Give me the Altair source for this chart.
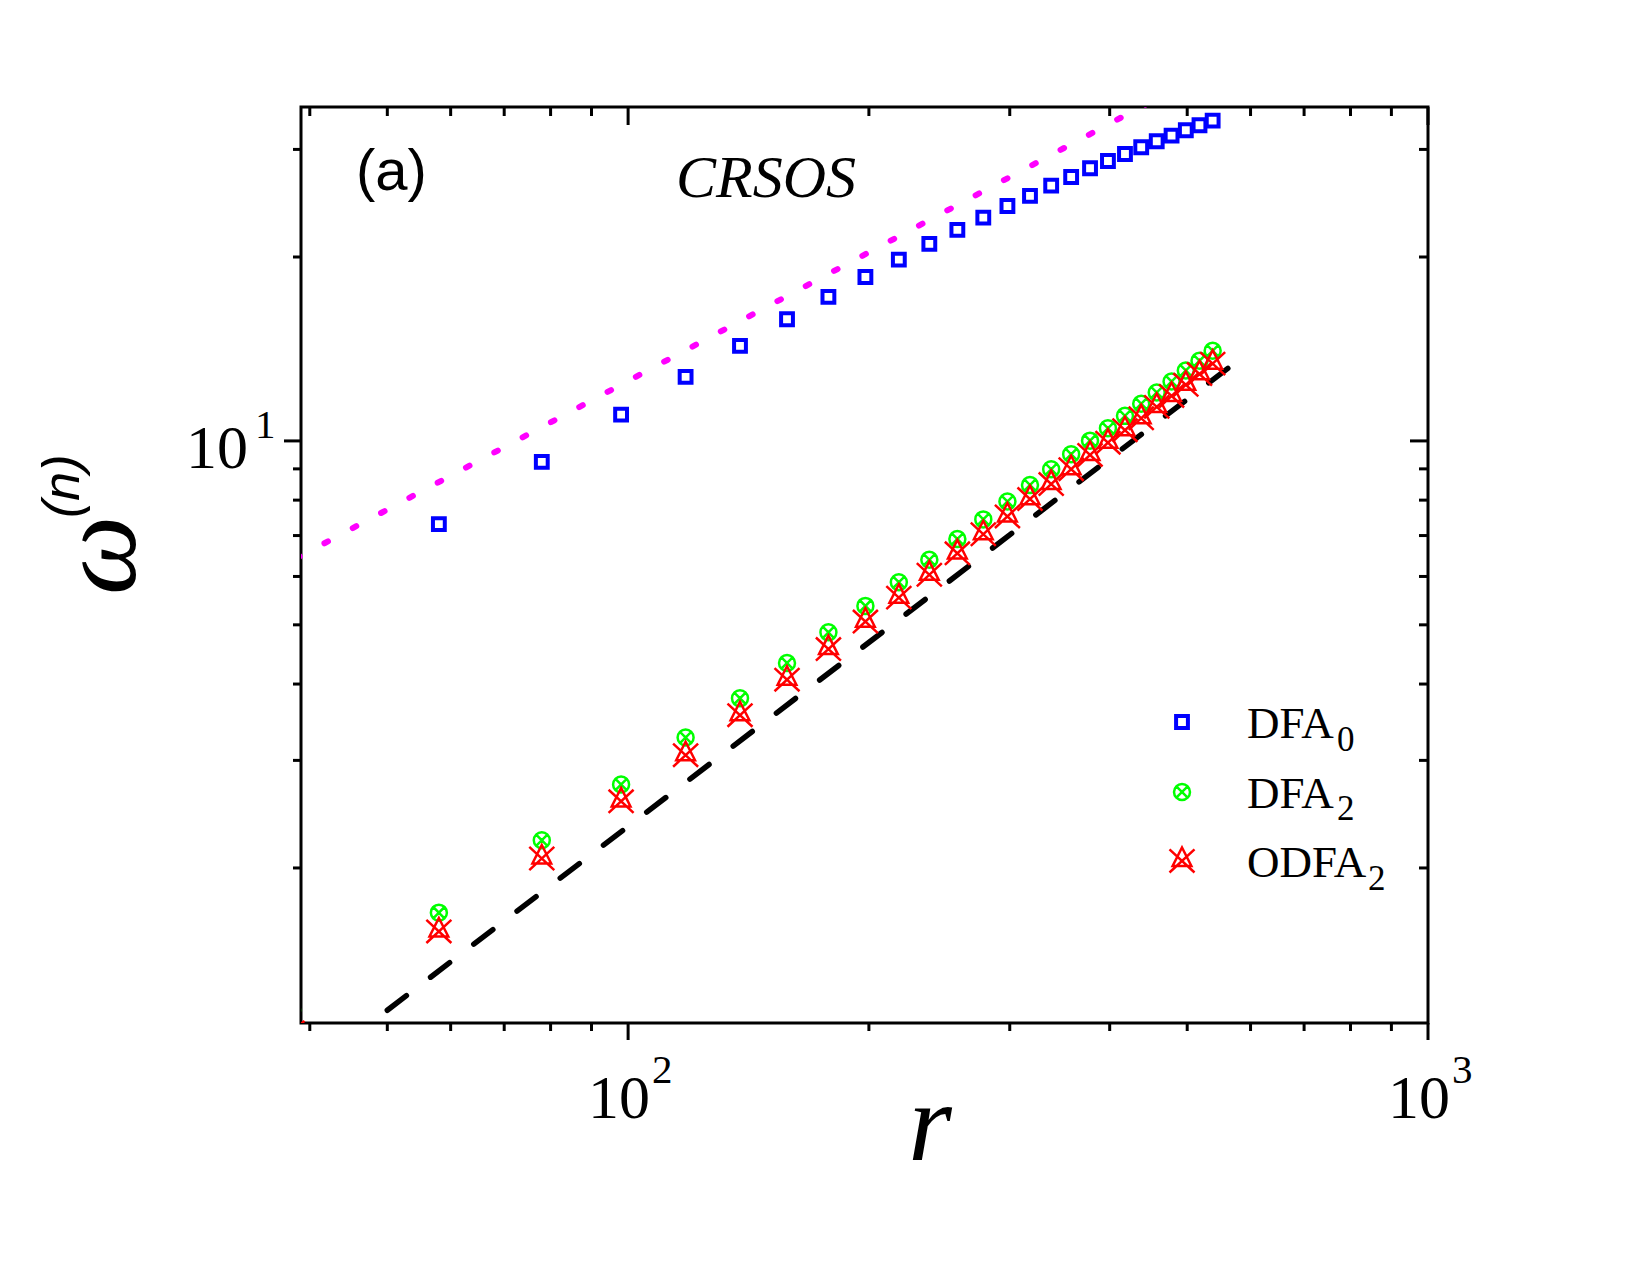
import altair as alt
import pandas as pd

# window sizes r and the three fluctuation functions
r_values = [38, 58, 78, 98, 118, 138, 158, 178, 198, 218, 238, 258, 278, 298,
            318, 338, 358, 378, 398, 418, 438, 458, 478, 498, 518, 538]
dfa0 = [5.15, 7.31, 9.24, 11.04, 12.73, 14.31, 15.82, 17.21, 18.55, 19.80,
        21.01, 22.15, 23.20, 24.24, 25.18, 26.17, 27.04, 27.94, 28.72, 29.49,
        30.25, 30.94, 31.60, 32.25, 32.86, 33.44]
dfa2 = [1.17, 1.69, 2.22, 2.74, 3.27, 3.79, 4.33, 4.86, 5.37, 5.87,
        6.39, 6.91, 7.44, 7.96, 8.47, 8.99, 9.51, 10.01, 10.49, 10.99,
        11.50, 12.00, 12.51, 13.04, 13.53, 14.05]
odfa2 = [1.08, 1.58, 2.08, 2.58, 3.07, 3.57, 4.08, 4.58, 5.08, 5.56,
         6.06, 6.57, 7.06, 7.55, 8.06, 8.53, 9.02, 9.52, 9.97, 10.45,
         10.93, 11.41, 11.89, 12.40, 12.91, 13.43]

# reference power laws (end points of each guide line)
power_r = [38, 450]
power_w = [6.37, 35.9]
linear_r = [50, 566]
linear_w = [1.17, 13.24]

# tick positions and labels
x_major = [100, 1000]
x_minor = [40, 50, 60, 70, 80, 90, 200, 300, 400, 500, 600, 700, 800, 900]
y_major = [10]
y_minor = [2, 3, 4, 5, 6, 7, 8, 9, 20, 30]
x_tick_base = ["10", "10"]
x_tick_exp = ["2", "3"]
y_tick_base = ["10"]
y_tick_exp = ["1"]

legend_names = ["DFA", "DFA", "ODFA"]
legend_subs = ["0", "2", "2"]

W, H = 1127, 916
SERIF = "Liberation Serif"
SANS = "Liberation Sans"

x_scale = alt.Scale(type="log", domain=[39, 1000], nice=False)
y_scale = alt.Scale(type="log", domain=[1.115, 35.2], nice=False)


def X(field="r"):
    return alt.X(f"{field}:Q", scale=x_scale, axis=None)


def Y(field="w"):
    return alt.Y(f"{field}:Q", scale=y_scale, axis=None)


SQUARE = "square"
CIRCLE_X = ("M1,0A1,1,0,1,1,-1,0A1,1,0,1,1,1,0Z"
            "M-0.8,-0.8L0.8,0.8M-0.8,0.8L0.8,-0.8")
TRIANGLE_X = "M0,-1L0.75,0.48L-0.75,0.48Z M-1,-0.85L1,1M1,-0.85L-1,1"

series_style = [
    dict(values=dfa0, shape=SQUARE, size=140, sw=4, color="#0000FF"),
    dict(values=dfa2, shape=CIRCLE_X, size=256, sw=2.5, color="#00FF00"),
    dict(values=odfa2, shape=TRIANGLE_X, size=625, sw=2.5, color="#FF0000"),
]

layers = []

# guide lines
layers.append(
    alt.Chart(pd.DataFrame({"r": power_r, "w": power_w}))
    .mark_line(color="#FF00FF", strokeWidth=6, strokeDash=[4, 28.1],
               strokeDashOffset=27.4, strokeCap="round", clip=True)
    .encode(x=X(), y=Y())
)
layers.append(
    alt.Chart(pd.DataFrame({"r": linear_r, "w": linear_w}))
    .mark_line(color="black", strokeWidth=5.5, strokeDash=[24, 30.4],
               strokeCap="round", clip=True)
    .encode(x=X(), y=Y())
)

# data markers
for s in series_style:
    layers.append(
        alt.Chart(pd.DataFrame({"r": r_values, "w": s["values"]}))
        .mark_point(shape=s["shape"], size=s["size"], filled=False,
                    strokeWidth=s["sw"], color=s["color"], opacity=1,
                    clip=True)
        .encode(x=X(), y=Y())
    )

# ticks: bottom/left outward, top/right inward
xt_major = pd.DataFrame({"t": x_major})
xt_minor = pd.DataFrame({"t": x_minor})
yt_major = pd.DataFrame({"t": y_major})
yt_minor = pd.DataFrame({"t": y_minor})
tick = dict(color="black", strokeWidth=3)
for df, ln in ((xt_major, 17), (xt_minor, 8)):
    layers.append(alt.Chart(df).mark_rule(**tick).encode(
        x=X("t"), y=alt.value(H), y2=alt.value(H + ln)))
    layers.append(alt.Chart(df).mark_rule(**tick).encode(
        x=X("t"), y=alt.value(0), y2=alt.value(ln + 1)))
for df, ln in ((yt_major, 17), (yt_minor, 8)):
    layers.append(alt.Chart(df).mark_rule(**tick).encode(
        y=Y("t"), x=alt.value(0), x2=alt.value(-ln)))
    layers.append(alt.Chart(df).mark_rule(**tick).encode(
        y=Y("t"), x=alt.value(W), x2=alt.value(W - ln - 1)))

# tick labels, written as 10 with a raised exponent
xl = pd.DataFrame({"t": x_major, "base": x_tick_base, "exp": x_tick_exp})
layers.append(alt.Chart(xl).mark_text(
    font=SERIF, fontSize=62, align="right", baseline="alphabetic", dx=22
).encode(x=X("t"), y=alt.value(1011), text="base:N"))
layers.append(alt.Chart(xl).mark_text(
    font=SERIF, fontSize=41, align="left", baseline="alphabetic", dx=24
).encode(x=X("t"), y=alt.value(976), text="exp:N"))

yl = pd.DataFrame({"t": y_major, "base": y_tick_base, "exp": y_tick_exp})
layers.append(alt.Chart(yl).mark_text(
    font=SERIF, fontSize=62, align="right", baseline="alphabetic", dy=27
).encode(y=Y("t"), x=alt.value(-53), text="base:N"))
layers.append(alt.Chart(yl).mark_text(
    font=SERIF, fontSize=41, align="left", baseline="alphabetic", dy=-3
).encode(y=Y("t"), x=alt.value(-46), text="exp:N"))

# axis titles
layers.append(alt.Chart(pd.DataFrame({"s": ["r"]})).mark_text(
    font=SERIF, fontSize=112, fontStyle="italic", align="center",
    baseline="alphabetic"
).encode(x=alt.value(629), y=alt.value(1053), text="s:N"))
layers.append(alt.Chart(pd.DataFrame({"s": ["\u03c9"]})).mark_text(
    font=SERIF, fontSize=112, fontStyle="italic", align="left",
    baseline="alphabetic", angle=270
).encode(x=alt.value(-166), y=alt.value(488), text="s:N"))
layers.append(alt.Chart(pd.DataFrame({"s": ["(n)"]})).mark_text(
    font=SANS, fontSize=52, fontStyle="italic", align="left",
    baseline="alphabetic", angle=270
).encode(x=alt.value(-222), y=alt.value(411), text="s:N"))

# panel annotations
layers.append(alt.Chart(pd.DataFrame({"s": ["(a)"]})).mark_text(
    font=SANS, fontSize=58, align="left", baseline="alphabetic"
).encode(x=alt.value(55), y=alt.value(83), text="s:N"))
layers.append(alt.Chart(pd.DataFrame({"s": ["CRSOS"]})).mark_text(
    font=SERIF, fontSize=60, fontStyle="italic", align="left",
    baseline="alphabetic"
).encode(x=alt.value(375), y=alt.value(90), text="s:N"))

# legend
legend_sym_x = 881
legend_rows_y = [615, 685, 753]
legend_text_y = [631, 701, 770]
legend_sub_y = [644, 713, 783]
legend_sub_x = [1036, 1036, 1067]
for i, s in enumerate(series_style):
    layers.append(alt.Chart(pd.DataFrame({"k": [legend_names[i]]})).mark_point(
        shape=s["shape"], size=s["size"], filled=False, strokeWidth=s["sw"],
        color=s["color"], opacity=1
    ).encode(x=alt.value(legend_sym_x), y=alt.value(legend_rows_y[i])))
    layers.append(alt.Chart(pd.DataFrame({"k": [legend_names[i]]})).mark_text(
        font=SERIF, fontSize=45, align="left", baseline="alphabetic"
    ).encode(x=alt.value(946), y=alt.value(legend_text_y[i]), text="k:N"))
    layers.append(alt.Chart(pd.DataFrame({"k": [legend_subs[i]]})).mark_text(
        font=SERIF, fontSize=35, align="left", baseline="alphabetic"
    ).encode(x=alt.value(legend_sub_x[i]), y=alt.value(legend_sub_y[i]),
             text="k:N"))

chart = (
    alt.layer(*layers)
    .properties(
        width=W, height=H,
        autosize=alt.AutoSizeParams(type="none"),
        padding={"left": 301, "top": 107, "right": 222, "bottom": 252},
        background="white",
    )
    .configure_view(stroke="black", strokeWidth=3)
)

chart.save("out.html", embed_options={"renderer": "svg", "actions": False})
